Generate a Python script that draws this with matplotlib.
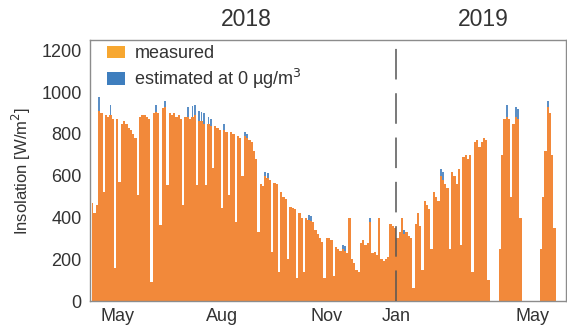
import pandas as pd
import matplotlib
matplotlib.use("Agg")
import matplotlib.pyplot as plt
from matplotlib.patches import Patch

plt.rcParams["font.family"] = ["Liberation Sans", "DejaVu Sans"]

# daily peak insolation, read every 2nd day starting 2018-04-09 [W/m2]
apr_2018 = [470, 420, 460, 910, 900, 520, 890, 880, 890, 870, 160]
may_2018 = [870, 570, 850, 860, 850, 830, 820, 800, 780, 510, 880, 890, 890, 880, 870, 90]
jun_2018 = [900, 905, 900, 365, 925, 930, 556, 900, 890, 900, 880, 890, 870, 460, 880]
jul_2018 = [880, 870, 880, 890, 556, 860, 860, 850, 556, 850, 840, 635, 840, 830, 820]
aug_2018 = [444, 820, 810, 508, 810, 800, 380, 790, 780, 600, 790, 780, 770, 760, 720, 680]
sep_2018 = [330, 560, 550, 600, 590, 580, 236, 565, 560, 140, 520, 500, 490, 200, 450]
oct_2018 = [445, 440, 110, 420, 400, 140, 400, 390, 385, 380, 340, 320, 300, 285, 110]
nov_2018 = [300, 300, 290, 120, 260, 250, 240, 250, 240, 230, 400, 200, 180, 150, 140]
dec_2018 = [280, 290, 270, 280, 380, 230, 236, 220, 400, 200, 190, 200, 210, 370, 360, 350]
jan_2019 = [300, 330, 396, 320, 330, 310, 300, 60, 370, 420, 360, 150, 480, 460, 440]
feb_2019 = [250, 520, 500, 480, 600, 580, 560, 540, 250, 620, 600, 560, 630, 270]
mar_2019 = [690, 700, 680, 700, 140, 760, 770, 740, 760, 780, 770, 100, 0, 0, 0, 0]
apr_2019 = [250, 700, 870, 880, 870, 500, 850, 880, 870, 400, 0, 0, 0, 0, 0]
may_2019 = [0, 0, 0, 250, 500, 720, 930, 900, 700, 350, 0, 0, 0, 0]

measured = (apr_2018 + may_2018 + jun_2018 + jul_2018 + aug_2018 + sep_2018
            + oct_2018 + nov_2018 + dec_2018 + jan_2019 + feb_2019 + mar_2019
            + apr_2019 + may_2019)
dates = pd.date_range("2018-04-09", periods=len(measured), freq="2D")

# estimated clear (0 ug/m3) peaks, only where they show above measured
est_dates = ["2018-04-15", "2018-04-25", "2018-06-04", "2018-06-12", "2018-07-02",
             "2018-07-06", "2018-07-08", "2018-07-12", "2018-07-14", "2018-07-16",
             "2018-07-20", "2018-07-22", "2018-08-03", "2018-08-21", "2018-08-23",
             "2018-09-08", "2018-09-10", "2018-10-16", "2018-10-18", "2018-11-15",
             "2018-11-17", "2018-12-09", "2019-01-08", "2019-02-09", "2019-02-11",
             "2019-04-08", "2019-04-16", "2019-04-18", "2019-05-14"]
est_values = [975, 940, 940, 960, 930, 935, 940, 910, 905, 900, 880, 870, 850, 810,
              800, 620, 612, 410, 405, 270, 265, 400, 340, 630, 620, 940, 930, 920, 960]

month_ticks = ["2018-05-01", "2018-08-01", "2018-11-01", "2019-01-01", "2019-05-01"]
month_labels = ["May", "Aug", "Nov", "Jan", "May"]
year_labels = ["2018", "2019"]
year_pos = ["2018-08-22", "2019-03-18"]

fig = plt.figure(figsize=(5.67, 3.27), dpi=100)
ax = fig.add_axes([0.1587, 0.0795, 0.8395, 0.798])

orange = "#f2893a"
blue = "#5b8fc6"
text_col = "#333333"

ax.bar(pd.to_datetime(est_dates), est_values, width=1.6, color=blue,
       edgecolor="none", linewidth=0, zorder=1)
ax.fill_between(dates, measured, 0, step="mid", color=orange, linewidth=0, zorder=2)

ax.axvline(pd.Timestamp("2019-01-01"), color="#555555", lw=1.1,
           linestyle=(0, (20, 9)), zorder=3)

ax.set_xlim(pd.Timestamp("2018-04-07"), pd.Timestamp("2019-05-30"))
ax.set_ylim(0, 1250)
ax.set_yticks([0, 200, 400, 600, 800, 1000, 1200])
ax.set_xticks(pd.to_datetime(month_ticks))
ax.set_xticklabels(month_labels)
ax.tick_params(axis="both", length=0, labelsize=13, colors=text_col)
ax.tick_params(axis="x", pad=5)
ax.tick_params(axis="y", pad=6)
ax.set_ylabel("Insolation [W/m$^2$]", fontsize=12, color=text_col, labelpad=6)

for s in ax.spines.values():
    s.set_color("#8c8c8c")
    s.set_linewidth(1.0)

for lab, pos in zip(year_labels, year_pos):
    ax.text(pd.Timestamp(pos), 1.035, lab, transform=ax.get_xaxis_transform(),
            ha="center", va="bottom", fontsize=16.5, color=text_col)

handles = [Patch(facecolor="#f7a730", edgecolor="none"),
           Patch(facecolor="#3e7ebe", edgecolor="none")]
ax.legend(handles, ["measured", "estimated at 0 µg/m$^3$"], loc="upper left",
          bbox_to_anchor=(0.025, 1.0), frameon=False, fontsize=13,
          handlelength=1.0, handleheight=0.7, handletextpad=0.5,
          labelspacing=0.25, borderaxespad=0.1, borderpad=0.2,
          labelcolor=text_col)

fig.savefig("out.png", dpi=100)
